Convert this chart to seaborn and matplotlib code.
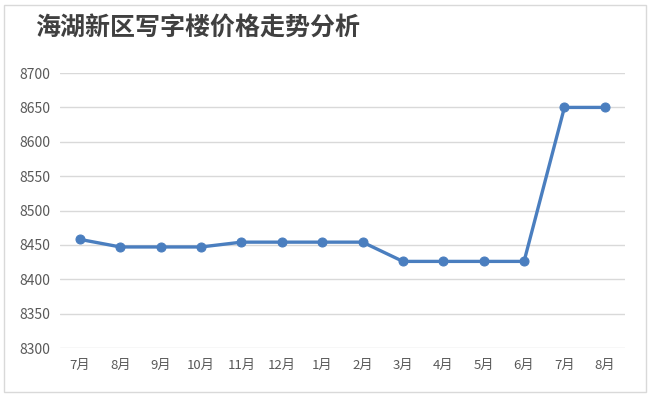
import matplotlib
matplotlib.use("Agg")
import matplotlib.pyplot as plt
from matplotlib.patches import Rectangle
import seaborn as sns
import pandas as pd

# monthly office price, 海湖新区
months = ["7月", "8月", "9月", "10月", "11月", "12月", "1月",
          "2月", "3月", "4月", "5月", "6月", "7月", "8月"]
prices = [8458, 8447, 8447, 8447, 8454, 8454, 8454,
          8454, 8426, 8426, 8426, 8426, 8650, 8650]
yticks = [8300, 8350, 8400, 8450, 8500, 8550, 8600, 8650, 8700]

df = pd.DataFrame({"idx": range(len(months)), "price": prices})

sns.set_theme(style="white")
plt.rcParams["font.family"] = ["Noto Sans CJK SC", "DejaVu Sans"]

fig = plt.figure(figsize=(6.5, 3.97), dpi=100)
ax = fig.add_axes([0.092, 0.1234, 0.8695, 0.6926])

sns.lineplot(data=df, x="idx", y="price", ax=ax, color="#4A7EBF",
             linewidth=2.4, marker="o", markersize=6.5,
             markeredgecolor="#4A7EBF", sort=False)

ax.set_xlim(-0.5, len(months) - 0.5)
ax.set_ylim(8300, 8700)
ax.set_yticks(yticks)
ax.set_xticks(range(len(months)))
ax.set_xticklabels(months)
ax.set_xlabel("")
ax.set_ylabel("")
ax.grid(axis="y", color="#D9D9D9", linewidth=1)
ax.set_axisbelow(True)
for s in ax.spines.values():
    s.set_visible(False)
ax.tick_params(axis="both", length=0, colors="#595959")
ax.tick_params(axis="y", pad=7, labelsize=10)
ax.tick_params(axis="x", pad=8, labelsize=9.5)

fig.text(0.054, 0.93, "海湖新区写字楼价格走势分析", fontsize=18,
         fontweight="bold", color="#404040", va="center", ha="left")

# chart frame
fig.patches.append(Rectangle((0.006, 0.012), 0.988, 0.976, transform=fig.transFigure,
                             fill=False, edgecolor="#D9D9D9", linewidth=1))

fig.savefig("out.png", dpi=100)
